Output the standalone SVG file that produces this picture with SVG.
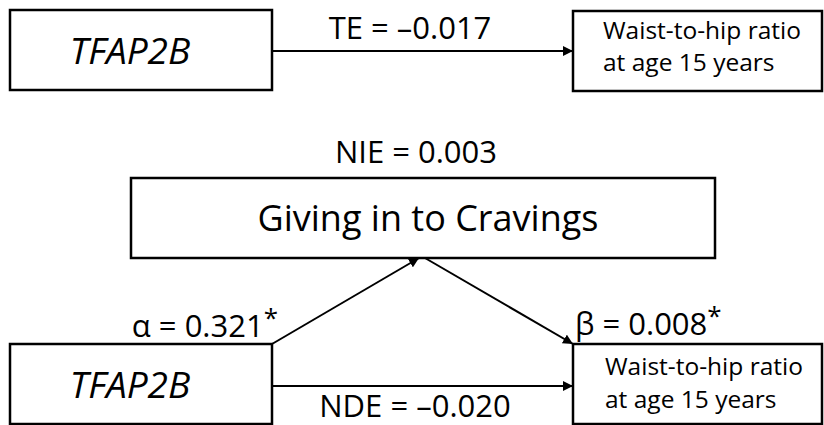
<svg xmlns="http://www.w3.org/2000/svg" width="824" height="425" viewBox="0 0 824 425">
<style>
.box{fill:#fff;stroke:#000;stroke-width:2.5}
.t{font-family:"Open Sans","Liberation Sans",sans-serif;fill:#000}
.lbl{font-size:31px}
.gene{font-size:37px;font-style:italic}
.out{font-size:24.5px}
.big{font-size:36px}
.edge{stroke:#000;stroke-width:2;fill:none;marker-end:url(#ah)}
</style>
<defs>
<marker id="ah" viewBox="0 0 10 10" refX="10" refY="5" markerWidth="5" markerHeight="5" orient="auto" markerUnits="strokeWidth">
<path d="M0,0 L10,5 L0,10 z" fill="#000"/>
</marker>
</defs>
<rect width="824" height="425" fill="#fff"/>
<g id="connectors">
<line class="edge" x1="272" y1="51" x2="573" y2="51"/>
<line class="edge" x1="272" y1="344" x2="419" y2="258"/>
<line class="edge" x1="425" y1="258" x2="573" y2="344"/>
<line class="edge" x1="272" y1="386" x2="573" y2="386"/>
</g>
<g id="labels">
<text class="t lbl" x="410" y="39" text-anchor="middle">TE = –0.017</text>
<text class="t lbl" x="416" y="163" text-anchor="middle">NIE = 0.003</text>
<text class="t lbl" x="278" y="337" text-anchor="end">α = 0.321<tspan dy="-10" font-size="26">*</tspan></text>
<text class="t lbl" x="575" y="335">β = 0.008<tspan dy="-10" font-size="26">*</tspan></text>
<text class="t lbl" x="415" y="417" text-anchor="middle">NDE = –0.020</text>
</g>
<g id="node-gene-top">
<rect class="box" x="10" y="10" width="262" height="80"/>
<text class="t gene" x="130" y="64" text-anchor="middle">TFAP2B</text>
</g>
<g id="node-whr-top">
<rect class="box" x="573" y="11" width="249" height="80"/>
<text class="t out" x="603" y="39">Waist-to-hip ratio</text>
<text class="t out" x="603" y="71">at age 15 years</text>
</g>
<g id="node-mediator">
<rect class="box" x="131" y="178" width="584" height="80"/>
<text class="t big" x="428" y="231" text-anchor="middle">Giving in to Cravings</text>
</g>
<g id="node-gene-bottom">
<rect class="box" x="10" y="344" width="262" height="80"/>
<text class="t gene" x="130" y="398" text-anchor="middle">TFAP2B</text>
</g>
<g id="node-whr-bottom">
<rect class="box" x="573" y="344" width="249" height="80"/>
<text class="t out" x="605" y="375">Waist-to-hip ratio</text>
<text class="t out" x="605" y="408">at age 15 years</text>
</g>
</svg>
